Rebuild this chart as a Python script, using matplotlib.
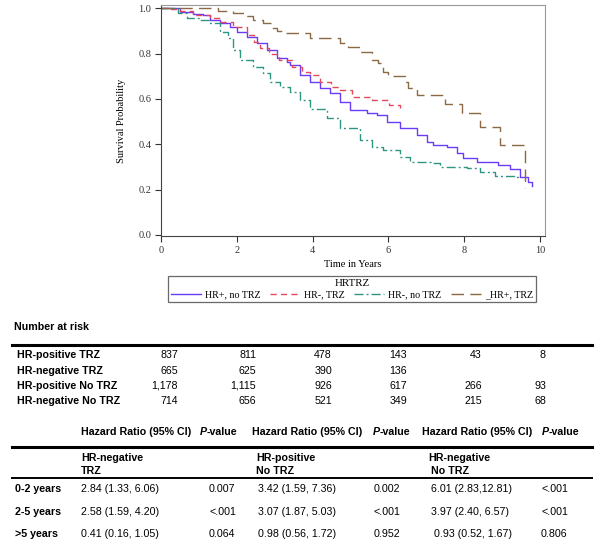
import numpy as np
import matplotlib
matplotlib.use("Agg")
import matplotlib.pyplot as plt
from matplotlib.lines import Line2D

# courbes de survie (temps en annees, probabilite)
t_hrpos_notrz = [0, 0.50, 0.84, 1.11, 1.29, 1.56, 1.82, 2.01, 2.27, 2.53, 2.80, 3.06, 3.32, 3.40,
                 3.67, 3.93, 4.20, 4.46, 4.72, 4.99, 5.44, 5.70, 5.96, 6.31, 6.75, 7.02, 7.18,
                 7.55, 7.81, 7.97, 8.34, 8.89, 9.21, 9.47, 9.68, 9.79]
s_hrpos_notrz = [1.0, 0.984, 0.977, 0.969, 0.947, 0.934, 0.916, 0.894, 0.872, 0.846, 0.815, 0.78,
                 0.762, 0.749, 0.705, 0.674, 0.647, 0.625, 0.586, 0.551, 0.537, 0.529, 0.498,
                 0.471, 0.441, 0.41, 0.396, 0.388, 0.361, 0.339, 0.322, 0.308, 0.29, 0.256,
                 0.233, 0.215]

t_hrneg_trz = [0, 0.16, 0.50, 0.84, 1.29, 1.56, 1.90, 2.27, 2.45, 2.61, 2.85, 3.11, 3.46, 3.72,
               3.93, 4.20, 4.49, 4.70, 5.04, 5.57, 6.02, 6.31]
s_hrneg_trz = [1.0, 0.996, 0.99, 0.969, 0.956, 0.938, 0.916, 0.881, 0.85, 0.824, 0.80, 0.771,
               0.74, 0.718, 0.705, 0.674, 0.652, 0.639, 0.608, 0.595, 0.573, 0.56]

t_hrneg_notrz = [0, 0.45, 0.69, 1.03, 1.29, 1.56, 1.77, 1.90, 2.08, 2.43, 2.69, 2.88, 3.14, 3.40,
                 3.67, 3.93, 4.38, 4.72, 5.25, 5.57, 5.86, 6.31, 6.57, 7.18, 7.36, 8.07, 8.42,
                 8.80, 9.30, 9.42]
s_hrneg_notrz = [1.0, 0.978, 0.956, 0.947, 0.934, 0.894, 0.868, 0.815, 0.771, 0.74, 0.714, 0.674,
                 0.652, 0.63, 0.595, 0.555, 0.515, 0.471, 0.419, 0.39, 0.374, 0.344, 0.322,
                 0.317, 0.30, 0.295, 0.278, 0.26, 0.256, 0.242]

t_hrpos_trz = [0, 1.5, 1.9, 2.2, 2.43, 2.69, 2.9, 3.06, 3.3, 3.93, 4.72, 4.93, 5.25, 5.57, 5.73,
               5.86, 5.99, 6.44, 6.52, 6.75, 7.49, 7.94, 8.42, 8.94, 9.60]
s_hrpos_trz = [1.0, 0.99, 0.978, 0.965, 0.95, 0.934, 0.915, 0.90, 0.89, 0.868, 0.845, 0.83,
               0.807, 0.77, 0.76, 0.72, 0.70, 0.674, 0.647, 0.617, 0.577, 0.537, 0.476, 0.396,
               0.207]

legend_labels = ['HR+, no TRZ', 'HR-, TRZ', 'HR-, no TRZ', '_HR+, TRZ']

# nombre a risque
risk_groups = ['HR-positive TRZ', 'HR-negative TRZ', 'HR-positive No TRZ', 'HR-negative No TRZ']
risk_values = [['837', '811', '478', '143', '43', '8'],
               ['665', '625', '390', '136', '', ''],
               ['1,178', '1,115', '926', '617', '266', '93'],
               ['714', '656', '521', '349', '215', '68']]

# rapports de risque
hr_periods = ['0-2 years', '2-5 years', '>5 years']
hr_groups = [('HR-negative', 'TRZ'), ('HR-positive', 'No TRZ'), ('HR-negative', ' No TRZ')]
hr_values = [['2.84 (1.33, 6.06)', '3.42 (1.59, 7.36)', '6.01 (2.83,12.81)'],
             ['2.58 (1.59, 4.20)', '3.07 (1.87, 5.03)', '3.97 (2.40, 6.57)'],
             ['0.41 (0.16, 1.05)', '0.98 (0.56, 1.72)', ' 0.93 (0.52, 1.67)']]
hr_pvalues = [['0.007', '0.002', '<.001'],
              ['<.001', '<.001', '<.001'],
              ['0.064', '0.952', '0.806']]

W, H = 600, 556
fig = plt.figure(figsize=(6, 5.56), dpi=100)


def fx(px):
    return px / W


def fy(py):
    return 1 - py / H


ax = fig.add_axes([fx(161), fy(236), fx(545) - fx(161), fy(5) - fy(236)])

serif = 'Liberation Serif'
c_blue, c_red, c_teal, c_brown = '#6a3cf5', '#e24a5c', '#2e9583', '#8c6a45'
ls_red = (0, (4.5, 3))
ls_teal = (0, (6.5, 2.2, 1.4, 2.2))
ls_brown = (0, (9, 4.5))
ax.step(t_hrpos_notrz, s_hrpos_notrz, where='post', color=c_blue, lw=1.0)
ax.step(t_hrneg_trz, s_hrneg_trz, where='post', color=c_red, lw=1.0, ls=ls_red)
ax.step(t_hrneg_notrz, s_hrneg_notrz, where='post', color=c_teal, lw=1.0, ls=ls_teal)
ax.step(t_hrpos_trz, s_hrpos_trz, where='post', color=c_brown, lw=1.0, ls=ls_brown)

ax.set_xlim(0, 10.13)
ax.set_ylim(-0.005, 1.015)
ax.set_xticks([0, 2, 4, 6, 8, 10])
ax.set_yticks([0.0, 0.2, 0.4, 0.6, 0.8, 1.0])
ax.set_yticklabels(['0.0', '0.2', '0.4', '0.6', '0.8', '1.0'])
ax.tick_params(direction='out', length=4, width=0.8, labelsize=7.5, colors='#333333', pad=3)
for lab in ax.get_xticklabels() + ax.get_yticklabels():
    lab.set_family(serif)
for s in ['left', 'bottom']:
    ax.spines[s].set_color('#444444')
for s in ['top', 'right']:
    ax.spines[s].set_color('#999999')
ax.set_xlabel('Time in Years', family=serif, fontsize=7.5, labelpad=4)
ax.set_ylabel('Survival Probability', family=serif, fontsize=7.5, labelpad=9)

handles = [Line2D([], [], color=c_blue, lw=1.0),
           Line2D([], [], color=c_red, lw=1.0, ls=ls_red),
           Line2D([], [], color=c_teal, lw=1.0, ls=ls_teal),
           Line2D([], [], color=c_brown, lw=1.0, ls=ls_brown)]
leg = ax.legend(handles, legend_labels, ncol=4, loc='upper left',
                bbox_to_anchor=(fx(168), fy(302), fx(536) - fx(168), fy(276) - fy(302)),
                bbox_transform=fig.transFigure, mode='expand', title='HRTRZ',
                prop={'family': serif, 'size': 7.2},
                title_fontproperties={'family': serif, 'size': 7.8},
                fancybox=False, handlelength=3.0, handletextpad=0.4, columnspacing=0.4,
                borderpad=0.3, borderaxespad=0, labelspacing=0.2)
leg.get_frame().set_edgecolor('#444444')
leg.get_frame().set_linewidth(0.9)

sans = 'Liberation Sans'
fs = 7.7
va = 'center_baseline'

# tableau nombre a risque
fig.text(fx(14), fy(326), 'Number at risk', family=sans, fontsize=fs, weight='bold', va=va)
fig.add_artist(Line2D([fx(12), fx(592)], [fy(345), fy(345)], color='black', lw=2.2))
row_y = [354, 370, 385, 400]
col_right = [178, 256, 332, 407, 482, 546]
for i, g in enumerate(risk_groups):
    fig.text(fx(17), fy(row_y[i]), g, family=sans, fontsize=fs, weight='bold', va=va)
    for j, v in enumerate(risk_values[i]):
        fig.text(fx(col_right[j]), fy(row_y[i]), v, family=sans, fontsize=fs, ha='right', va=va)

# tableau rapports de risque
head_x = [81, 252, 422]
headp_x = [200, 373, 542]
grp_x = [81, 256, 428]
val_x = [81, 258, 431]
p_x = [209, 374, 541]
for k in range(3):
    fig.text(fx(head_x[k]), fy(431), 'Hazard Ratio (95% CI)', family=sans, fontsize=fs,
             weight='bold', va=va)
    fig.text(fx(headp_x[k]), fy(431), 'P', family=sans, fontsize=fs, weight='bold',
             style='italic', va=va)
    fig.text(fx(headp_x[k] + 7), fy(431), '-value', family=sans, fontsize=fs, weight='bold', va=va)
fig.add_artist(Line2D([fx(12), fx(592)], [fy(447), fy(447)], color='black', lw=2.2))
for k in range(3):
    fig.text(fx(grp_x[k]), fy(457), hr_groups[k][0], family=sans, fontsize=fs, weight='bold', va=va)
    fig.text(fx(grp_x[k]), fy(470), hr_groups[k][1], family=sans, fontsize=fs, weight='bold', va=va)
fig.add_artist(Line2D([fx(12), fx(592)], [fy(478), fy(478)], color='black', lw=1.4))
period_y = [488, 511, 533]
for i, per in enumerate(hr_periods):
    fig.text(fx(15), fy(period_y[i]), per, family=sans, fontsize=fs, weight='bold', va=va)
    for k in range(3):
        fig.text(fx(val_x[k]), fy(period_y[i]), hr_values[i][k], family=sans, fontsize=fs, va=va)
        fig.text(fx(p_x[k]), fy(period_y[i]), hr_pvalues[i][k], family=sans, fontsize=fs, va=va)

fig.savefig('out.png', dpi=100)
